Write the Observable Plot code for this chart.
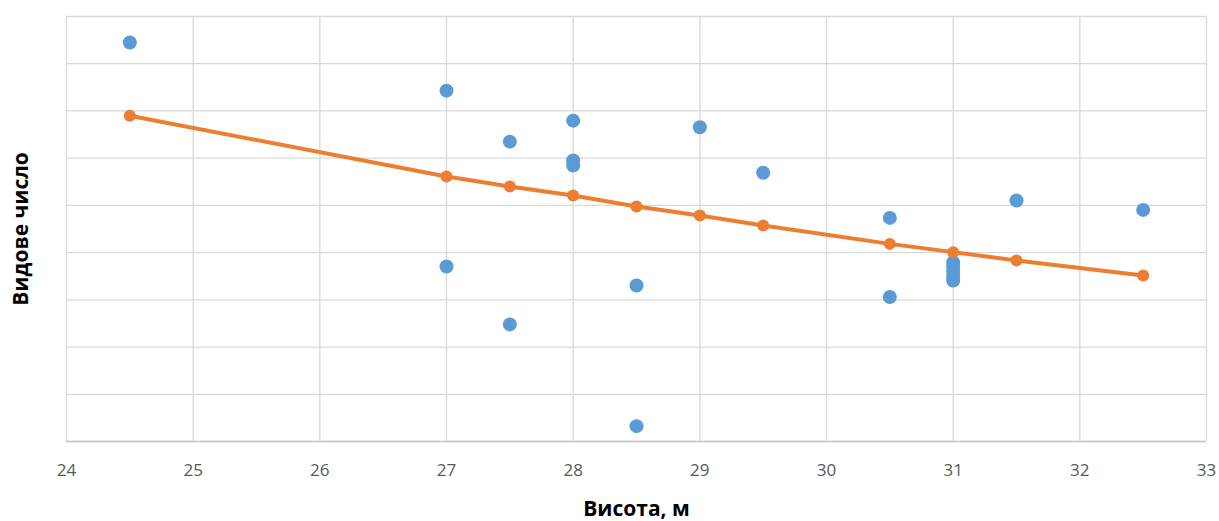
<!DOCTYPE html>
<html>
<head>
<meta charset="utf-8">
<script src="https://cdn.jsdelivr.net/npm/d3@7"></script>
<script src="https://cdn.jsdelivr.net/npm/@observablehq/plot@0.6"></script>
<style>
  html, body { margin: 0; padding: 0; background: #ffffff; }
  #chart { width: 1219px; height: 521px; }
</style>
</head>
<body>
<div id="chart"></div>
<script>
// Observed points: height (m) and form number
const heights = [24.5, 27, 27, 27.5, 27.5, 28, 28, 28, 28.5, 28.5, 29, 29.5, 30.5, 30.5, 31, 31, 31, 31, 31, 31.5, 32.5];
const formNumbers = [0.569, 0.5486, 0.4741, 0.527, 0.4496, 0.5359, 0.519, 0.5169, 0.4661, 0.4065, 0.5331, 0.5138, 0.4947, 0.4612, 0.4758, 0.4741, 0.472, 0.4699, 0.4682, 0.5021, 0.4981];

// Trend series
const trendHeights = [24.5, 27, 27.5, 28, 28.5, 29, 29.5, 30.5, 31, 31.5, 32.5];
const trendValues = [0.538, 0.5122, 0.508, 0.5042, 0.4995, 0.4957, 0.4915, 0.4837, 0.4802, 0.4767, 0.4703];

// Axes
const xTicks = [24, 25, 26, 27, 28, 29, 30, 31, 32, 33];
const yGrid = [0.40, 0.42, 0.44, 0.46, 0.48, 0.50, 0.52, 0.54, 0.56, 0.58];
const xLabel = "Висота, м";
const yLabel = "Видове число";

const points = heights.map((h, i) => ({h, v: formNumbers[i]}));
const trend = trendHeights.map((h, i) => ({h, v: trendValues[i]}));

const font = "'Open Sans', 'Noto Sans', sans-serif";

const chart = Plot.plot({
  width: 1219,
  height: 521,
  marginLeft: 66,
  marginRight: 13,
  marginTop: 16,
  marginBottom: 80,
  style: {fontFamily: font, background: "#ffffff"},
  x: {domain: [24, 33]},
  y: {domain: [0.40, 0.58]},
  marks: [
    Plot.gridX(xTicks, {stroke: "#d9d9d9", strokeOpacity: 1, strokeWidth: 1.3}),
    Plot.gridY(yGrid, {stroke: "#d9d9d9", strokeOpacity: 1, strokeWidth: 1.3}),
    Plot.ruleY([0.40], {stroke: "#c8c8c8", strokeWidth: 1.5}),
    Plot.axisX(xTicks, {tickSize: 0, tickPadding: 22, fontSize: 17, fill: "#595959", label: null, tickFormat: d => String(d)}),
    Plot.axisY({ticks: [], label: null, tickSize: 0}),
    Plot.dot(points, {x: "h", y: "v", r: 7, fill: "#5b9bd5", stroke: null}),
    Plot.line(trend, {x: "h", y: "v", stroke: "#ed7d31", strokeWidth: 4}),
    Plot.dot(trend, {x: "h", y: "v", r: 6, fill: "#ed7d31", stroke: null}),
    Plot.text([xLabel], {frameAnchor: "bottom", dy: 74, fontSize: 21, fontWeight: "bold", fill: "#000000", fontFamily: font}),
    Plot.text([yLabel], {frameAnchor: "left", textAnchor: "middle", dx: -45, rotate: -90, fontSize: 21, fontWeight: "bold", fill: "#000000", fontFamily: font})
  ]
});
document.getElementById("chart").appendChild(chart);
</script>
</body>
</html>
